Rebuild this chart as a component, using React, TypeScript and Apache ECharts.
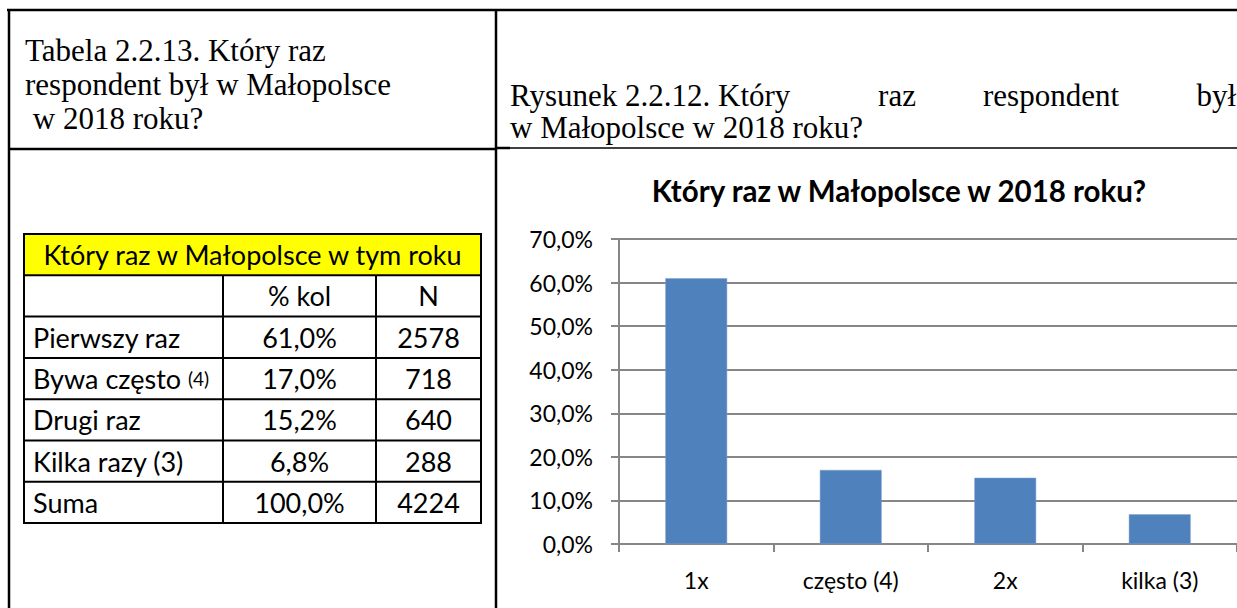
import React, { useEffect, useRef } from "react";
import * as echarts from "echarts";

const categories = ["1x", "często (4)", "2x", "kilka (3)"];
const values = [61.0, 17.0, 15.2, 6.8];

const chartTitle = "Który raz w Małopolsce w 2018 roku?";
const leftHeader = ["Tabela 2.2.13. Który raz", "respondent był w Małopolsce", " w 2018 roku?"];
const rightHeaderWords = ["Rysunek 2.2.12. Który", "raz", "respondent", "był"];
const rightHeaderLine2 = "w Małopolsce w 2018 roku?";

const tableTitle = "Który raz w Małopolsce w tym roku";
const tableCols = ["", "% kol", "N"];
const rowLabels = ["Pierwszy raz", "Bywa często", "Drugi raz", "Kilka razy (3)", "Suma"];
const rowNotes = ["", "(4)", "", "", ""];
const rowPct = ["61,0%", "17,0%", "15,2%", "6,8%", "100,0%"];
const rowN = ["2578", "718", "640", "288", "4224"];

const SERIF = "'Liberation Serif', 'Times New Roman', serif";
const SANS = "Lato, Carlito, Calibri, sans-serif";

function buildGraphics() {
  const g: any[] = [];
  const line = (x1: number, y1: number, x2: number, y2: number, w: number) =>
    g.push({ type: "line", shape: { x1, y1, x2, y2 }, style: { stroke: "#000", lineWidth: w }, z: 10 });

  // frame
  line(7, 10, 1237, 10, 2.5);
  line(9, 10, 9, 608, 2.5);
  line(496, 10, 496, 608, 2.5);
  line(8, 149, 496, 149, 2.5);
  line(497, 148, 510, 148, 2.5);
  line(510, 148, 1237, 148, 1.5);

  // left header
  const hf = `31px ${SERIF}`;
  const leftY = [50, 84, 118];
  leftHeader.forEach((t, i) =>
    g.push({
      type: "text",
      x: 25,
      y: leftY[i],
      style: { text: t, font: hf, fill: "#000", textAlign: "left", textVerticalAlign: "middle" },
    })
  );
  // right header (justified)
  const rx = [510, 897, 1051, 1236];
  const ra = ["left", "center", "center", "right"];
  rightHeaderWords.forEach((t, i) =>
    g.push({
      type: "text",
      x: rx[i],
      y: 95,
      style: { text: t, font: hf, fill: "#000", textAlign: ra[i], textVerticalAlign: "middle" },
    })
  );
  g.push({
    type: "text",
    x: 510,
    y: 127,
    style: { text: rightHeaderLine2, font: hf, fill: "#000", textAlign: "left", textVerticalAlign: "middle" },
  });

  // table
  const tx = [24, 223, 376, 481];
  const ty0 = 234;
  const rh = 41.3;
  const nRows = 2 + rowLabels.length;
  const yAt = (i: number) => ty0 + i * rh;
  g.push({ type: "rect", shape: { x: tx[0], y: ty0, width: tx[3] - tx[0], height: rh }, style: { fill: "#FFFF00" }, z: 5 });
  for (let i = 0; i <= nRows; i++) line(tx[0] - 1, yAt(i), tx[3] + 1, yAt(i), 2);
  line(tx[0], yAt(0), tx[0], yAt(nRows), 2);
  line(tx[3], yAt(0), tx[3], yAt(nRows), 2);
  line(tx[1], yAt(1), tx[1], yAt(nRows), 2);
  line(tx[2], yAt(1), tx[2], yAt(nRows), 2);

  const font = `27px ${SANS}`;
  const cx2 = (tx[1] + tx[2]) / 2;
  const cx3 = (tx[2] + tx[3]) / 2;
  const txt = (t: string, x: number, y: number, align: string) =>
    g.push({
      type: "text",
      x,
      y,
      style: { text: t, font, fill: "#000", textAlign: align, textVerticalAlign: "middle" },
      z: 12,
    });
  txt(tableTitle, (tx[0] + tx[3]) / 2, yAt(0) + rh / 2, "center");
  txt(tableCols[1], cx2, yAt(1) + rh / 2, "center");
  txt(tableCols[2], cx3, yAt(1) + rh / 2, "center");
  rowLabels.forEach((lab, i) => {
    const y = yAt(2 + i) + rh / 2;
    if (rowNotes[i]) {
      g.push({
        type: "text",
        x: 33,
        y,
        style: {
          text: `{a|${lab} }{b|${rowNotes[i]}}`,
          rich: {
            a: { font, fill: "#000" },
            b: { font: `19px ${SANS}`, fill: "#000" },
          },
          textAlign: "left",
          textVerticalAlign: "middle",
        },
        z: 12,
      });
    } else {
      txt(lab, 33, y, "left");
    }
    txt(rowPct[i], cx2, y, "center");
    txt(rowN[i], cx3, y, "center");
  });

  // chart title
  g.push({
    type: "text",
    x: 899,
    y: 190,
    style: { text: chartTitle, font: `bold 29.5px ${SANS}`, fill: "#000", textAlign: "center", textVerticalAlign: "middle" },
  });
  return g;
}

export default function App() {
  const ref = useRef<HTMLDivElement>(null);
  useEffect(() => {
    if (!ref.current) return;
    const chart = echarts.init(ref.current, undefined, { renderer: "svg" });
    chart.setOption({
      animation: false,
      backgroundColor: "#fff",
      grid: { left: 619, top: 239, width: 644, height: 305, containLabel: false },
      xAxis: {
        type: "category",
        data: categories,
        axisLine: { show: true, lineStyle: { color: "#868686", width: 2 } },
        axisTick: { show: true, length: 8, alignWithLabel: false, lineStyle: { color: "#868686", width: 2 } },
        axisLabel: { color: "#000", fontFamily: SANS, fontSize: 23, margin: 24 },
      },
      yAxis: {
        type: "value",
        min: 0,
        max: 70,
        interval: 10,
        axisLine: { show: true, lineStyle: { color: "#868686", width: 2 } },
        axisTick: { show: true, length: 8, lineStyle: { color: "#868686", width: 2 } },
        splitLine: { show: true, lineStyle: { color: "#868686", width: 2 } },
        axisLabel: {
          color: "#000",
          fontFamily: SANS,
          fontSize: 23,
          margin: 26,
          formatter: (v: number) => v.toFixed(1).replace(".", ",") + "%",
        },
      },
      series: [
        {
          type: "bar",
          data: values,
          barWidth: "40%",
          itemStyle: { color: "#4F81BD", borderColor: "#7FA1CC", borderWidth: 0.5 },
        },
      ],
      graphic: buildGraphics(),
    });
    return () => chart.dispose();
  }, []);
  return (
    <div
      ref={ref}
      style={{ position: "fixed", left: 0, top: 0, width: 1237, height: 608, background: "#fff" }}
    />
  );
}
